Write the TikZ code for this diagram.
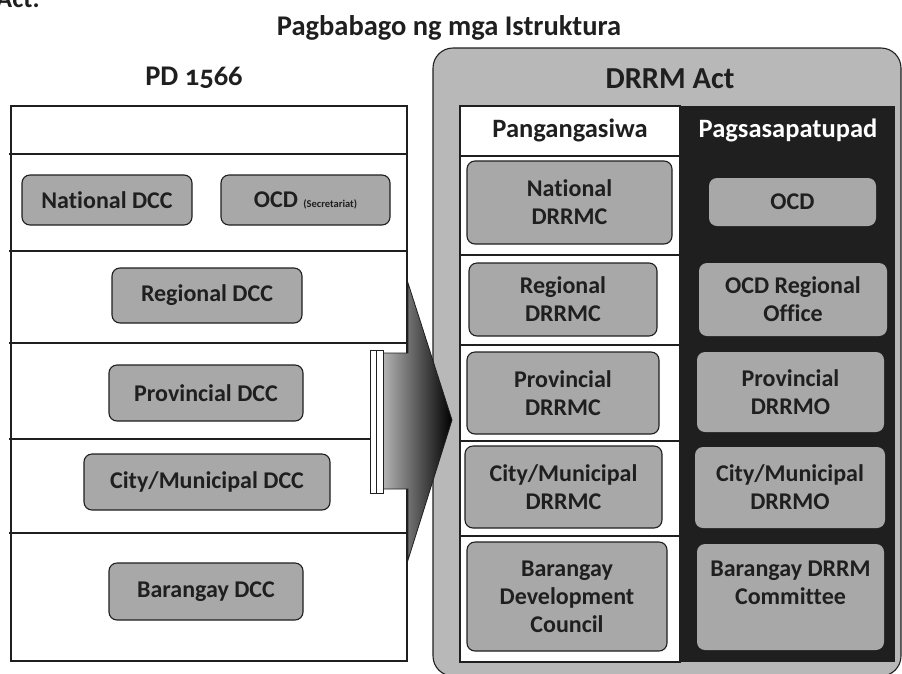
\documentclass[tikz,border=0pt]{standalone}
\usepackage{fontspec}
\setmainfont{Carlito}[Ligatures=NoCommon]
\definecolor{boxgray}{gray}{0.66}
\definecolor{panelgray}{gray}{0.72}
\definecolor{ink}{gray}{0.12}
\begin{document}
\begin{tikzpicture}[x=1pt,y=-1pt,
  dccbox/.style={draw=ink, line width=1.1pt, fill=boxgray, rounded corners=8pt, inner sep=0pt,
    align=center, text=ink, font=\fontsize{24}{28}\selectfont\bfseries},
  darkbox/.style={fill=boxgray, rounded corners=8pt, inner sep=0pt, draw=none,
    align=center, text=ink, font=\fontsize{24}{28}\selectfont\bfseries},
  gridline/.style={line width=1.1pt, draw=ink},
  heading/.style={text=ink, font=\fontsize{26.5}{30}\selectfont\bfseries}]
\useasboundingbox (0,0) rectangle (902,673);

% cut-off text at the top edge
\node[heading, anchor=base west, inner sep=0pt] (act) at (-4,7) {Act.};

% title
\node[heading, font=\fontsize{28.5}{32}\selectfont\bfseries] (title) at (449,28) {Pagbabago ng mga Istruktura};

% ---------- left table (PD 1566) ----------
\node[heading, font=\fontsize{28.5}{32}\selectfont\bfseries] (pd) at (194,78) {PD {\addfontfeatures{Numbers=OldStyle}1566}};
\draw[gridline] (11,106) rectangle (407,661);
\draw[gridline] (9,154) -- (407,154);
\draw[gridline] (9,251) -- (407,251);
\draw[gridline] (9,343) -- (407,343);
\draw[gridline] (9,439) -- (407,439);
\draw[gridline] (9,533) -- (407,533);

\node[dccbox, minimum width=170pt, minimum height=50pt] (natdcc) at (107,200) {National DCC};
\node[dccbox, minimum width=169pt, minimum height=50pt] (ocdsec) at (305.5,200) {OCD {\fontsize{10.5}{12}\selectfont (Secretariat)}};
\node[dccbox, minimum width=190pt, minimum height=55pt] (regdcc) at (207,295.5) {Regional DCC};
\node[dccbox, minimum width=194pt, minimum height=56pt] (provdcc) at (206,393) {Provincial DCC};
\node[dccbox, minimum width=246pt, minimum height=56pt] (citydcc) at (207,482) {City/Municipal DCC};
\node[dccbox, minimum width=194pt, minimum height=57pt] (brgydcc) at (206,591.5) {Barangay DCC};

% ---------- right panel (DRRM Act) ----------
\draw[line width=1.1pt, draw=ink, fill=panelgray, rounded corners=20pt] (433,48) rectangle (901,676);
\node[heading, font=\fontsize{30.5}{34}\selectfont\bfseries] (drrm) at (670,79) {DRRM Act};
\fill[ink] (680,106) rectangle (895,662);
\draw[gridline, fill=white] (460,106) rectangle (680,662);
\draw[gridline] (460,156) -- (680,156);
\draw[gridline] (460,255) -- (680,255);
\draw[gridline] (460,345) -- (680,345);
\draw[gridline] (460,441) -- (680,441);
\draw[gridline] (460,536) -- (680,536);

\node[heading] (pang) at (570,130) {Pangangasiwa};
\node[heading, text=white] (pags) at (788,130) {Pagsasapatupad};

\node[dccbox, minimum width=205pt, minimum height=83pt] (natdrrmc) at (569.5,202.5) {National\\DRRMC};
\node[dccbox, minimum width=188pt, minimum height=73pt] (regdrrmc) at (563,299.5) {Regional\\DRRMC};
\node[dccbox, minimum width=192pt, minimum height=82pt] (provdrrmc) at (563,393) {Provincial\\DRRMC};
\node[dccbox, minimum width=197pt, minimum height=82pt] (citydrrmc) at (563.5,487) {City/Municipal\\DRRMC};
\node[dccbox, minimum width=200pt, minimum height=109pt] (bdc) at (567,596.5) {Barangay\\Development\\Council};

\node[darkbox, minimum width=167pt, minimum height=48pt] (ocd) at (792.5,202) {OCD};
\node[darkbox, minimum width=188pt, minimum height=73pt] (ocdreg) at (793,299.5) {OCD Regional\\Office};
\node[darkbox, minimum width=187pt, minimum height=80pt] (provdrrmo) at (790.5,392) {Provincial\\DRRMO};
\node[darkbox, minimum width=190pt, minimum height=81pt] (citydrrmo) at (790,487.5) {City/Municipal\\DRRMO};
\node[darkbox, minimum width=187pt, minimum height=106pt] (bdrrmc) at (790.5,597) {Barangay DRRM\\Committee\\\phantom{X}};

% ---------- big arrow ----------
\shade[draw=ink, line width=0.8pt, left color=black!30, right color=black]
  (383,353) -- (408,353) -- (408,283) -- (452,420) -- (408,560) -- (408,489) -- (383,489) -- cycle;
\draw[draw=ink, line width=0.9pt, fill=white] (370,350) rectangle (383,493);
\draw[draw=ink, line width=0.6pt] (376,350) -- (376,493);
\end{tikzpicture}
\end{document}
